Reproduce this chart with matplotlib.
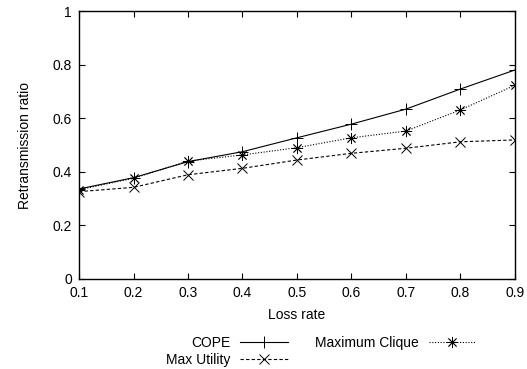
import matplotlib.pyplot as plt
from matplotlib.ticker import MultipleLocator

plt.rcParams['font.family'] = ['Liberation Sans', 'DejaVu Sans']

# Data
loss_rate = [0.1, 0.2, 0.3, 0.4, 0.5, 0.6, 0.7, 0.8, 0.9]
cope = [0.336, 0.378, 0.438, 0.475, 0.527, 0.578, 0.634, 0.709, 0.780]
max_utility = [0.326, 0.342, 0.389, 0.413, 0.444, 0.469, 0.488, 0.512, 0.519]
max_clique = [0.333, 0.376, 0.440, 0.463, 0.490, 0.527, 0.552, 0.631, 0.723]

fig = plt.figure(figsize=(5.27, 3.69), dpi=100)
ax = fig.add_axes([0.150, 0.244, 0.827, 0.726])

lw = 0.8
fs = 10
ax.plot(loss_rate, cope, color='black', linestyle='-', linewidth=lw,
        marker='+', markersize=9, markeredgewidth=0.7, label='COPE')
ax.plot(loss_rate, max_utility, color='black', linestyle=(0, (3, 2)), linewidth=lw,
        marker='x', markersize=7, markeredgewidth=0.7, label='Max Utility')
ax.plot(loss_rate, max_clique, color='black', linestyle=(0, (1, 1.5)), linewidth=lw,
        marker=(8, 2, 0), markersize=8, markeredgewidth=0.6, label='Maximum Clique')

ax.set_xlim(0.1, 0.9)
ax.set_ylim(0, 1)
ax.xaxis.set_major_locator(MultipleLocator(0.1))
ax.yaxis.set_major_locator(MultipleLocator(0.2))
ax.xaxis.set_major_formatter(plt.FuncFormatter(lambda v, p: f"{v:g}"))
ax.yaxis.set_major_formatter(plt.FuncFormatter(lambda v, p: f"{v:g}"))
ax.tick_params(direction='in', top=True, right=True, length=4, width=0.8,
               labelsize=fs, pad=5)
for s in ax.spines.values():
    s.set_linewidth(1.0)

ax.set_xlabel('Loss rate', fontsize=fs, labelpad=6)
ax.set_ylabel('Retransmission ratio', fontsize=fs, labelpad=15)

h, l = ax.get_legend_handles_labels()
ax.legend(h, l, ncol=2,
          loc='upper left', bbox_to_anchor=(0.2, -0.212),
          frameon=False, markerfirst=False, fontsize=fs,
          handlelength=3.4, columnspacing=2.0, labelspacing=0.25,
          handletextpad=0.7, borderpad=0, borderaxespad=0)

fig.savefig('out.png', dpi=100)
